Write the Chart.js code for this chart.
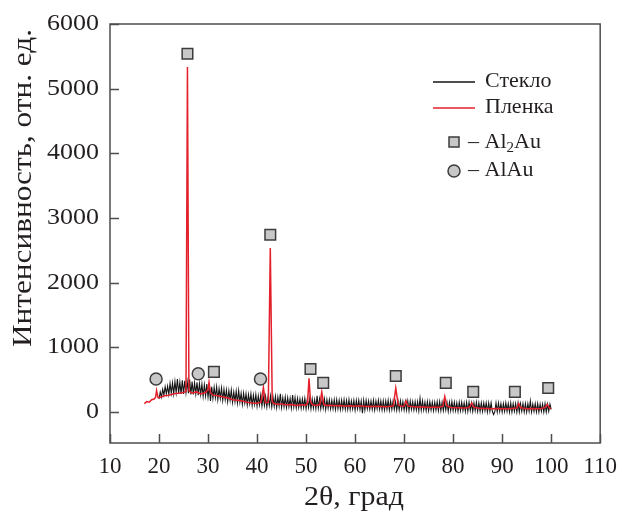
<!DOCTYPE html>
<html>
<head>
<meta charset="utf-8">
<script src="https://cdn.jsdelivr.net/npm/chart.js@4.4.1/dist/chart.umd.min.js"></script>
<style>
html,body{margin:0;padding:0;background:#fff;}
canvas{display:block;}
</style>
</head>
<body>
<canvas id="c" width="627" height="512"></canvas>
<script>
// ---- Data ----
const xTicks = [10, 20, 30, 40, 50, 60, 70, 80, 90, 100, 110];
const yTicks = [0, 1000, 2000, 3000, 4000, 5000, 6000];

// Стекло (glass substrate) — 2θ and intensity
const glassX = [
20,20.25,20.5,20.75,21,21.25,21.5,21.75,22,22.25,22.5,22.75,23,23.25,23.5,23.75,24,24.25,24.5,24.75,
25,25.25,25.5,25.75,26,26.25,26.5,26.75,27,27.25,27.5,27.75,28,28.25,28.5,28.75,29,29.25,29.5,29.75,
30,30.25,30.5,30.75,31,31.25,31.5,31.75,32,32.25,32.5,32.75,33,33.25,33.5,33.75,34,34.25,34.5,34.75,
35,35.25,35.5,35.75,36,36.25,36.5,36.75,37,37.25,37.5,37.75,38,38.25,38.5,38.75,39,39.25,39.5,39.75,
40,40.25,40.5,40.75,41,41.25,41.5,41.75,42,42.25,42.5,42.75,43,43.25,43.5,43.75,44,44.25,44.5,44.75,
45,45.25,45.5,45.75,46,46.25,46.5,46.75,47,47.25,47.5,47.75,48,48.25,48.5,48.75,49,49.25,49.5,49.75,
50,50.25,50.5,50.75,51,51.25,51.5,51.75,52,52.25,52.5,52.75,53,53.25,53.5,53.75,54,54.25,54.5,54.75,
55,55.25,55.5,55.75,56,56.25,56.5,56.75,57,57.25,57.5,57.75,58,58.25,58.5,58.75,59,59.25,59.5,59.75,
60,60.25,60.5,60.75,61,61.25,61.5,61.75,62,62.25,62.5,62.75,63,63.25,63.5,63.75,64,64.25,64.5,64.75,
65,65.25,65.5,65.75,66,66.25,66.5,66.75,67,67.25,67.5,67.75,68,68.25,68.5,68.75,69,69.25,69.5,69.75,
70,70.25,70.5,70.75,71,71.25,71.5,71.75,72,72.25,72.5,72.75,73,73.25,73.5,73.75,74,74.25,74.5,74.75,
75,75.25,75.5,75.75,76,76.25,76.5,76.75,77,77.25,77.5,77.75,78,78.25,78.5,78.75,79,79.25,79.5,79.75,
80,80.25,80.5,80.75,81,81.25,81.5,81.75,82,82.25,82.5,82.75,83,83.25,83.5,83.75,84,84.25,84.5,84.75,
85,85.25,85.5,85.75,86,86.25,86.5,86.75,87,87.25,87.5,87.75,88,88.25,88.5,88.75,89,89.25,89.5,89.75,
90,90.25,90.5,90.75,91,91.25,91.5,91.75,92,92.25,92.5,92.75,93,93.25,93.5,93.75,94,94.25,94.5,94.75,
95,95.25,95.5,95.75,96,96.25,96.5,96.75,97,97.25,97.5,97.75,98,98.25,98.5,98.75,99,99.25,99.5,99.75,100];
const glassY = [
200,310,230,350, 260,390,280,400, 270,440,290,450, 280,470,300,510, 290,460,280,490,
280,480,300,470, 290,500,270,470, 270,450,280,460, 260,440,270,430, 240,420,250,430,
230,400,170,390, 210,380,220,390, 190,360,210,370, 180,350,190,340, 160,330,180,340,
150,310,160,320, 140,330,150,290, 120,290,140,280, 110,270,130,280, 100,260,120,270,
90,250,110,260, 90,250,100,240, 80,240,100,250, 80,230,90,240, 70,230,90,280,
70,220,80,230, 70,220,80,210, 60,260,80,220, 60,210,70,200, 60,200,70,210,
50,200,70,210, 50,200,60,190, 50,250,60,200, 50,190,60,200, 40,190,60,190,
50,180,50,190, 40,190,50,180, 40,180,50,190, 40,180,40,190, 40,170,50,180,
30,180,50,180, 40,170,-20,180, 30,180,50,170, 40,170,40,180, 30,170,50,180,
40,170,30,170, 30,170,40,180, 30,170,40,170, 40,160,30,170, 30,170,40,160,
30,160,30,170, 20,170,40,160, 30,160,30,160, 20,210,30,170, 30,150,20,160,
20,160,30,150, 20,150,30,160, 20,160,20,150, 20,150,30,150, 10,150,20,160,
20,150,20,140, 10,150,20,150, 20,140,10,150, 10,150,20,140, 10,140,20,150,
10,140,10,140, 10,140,20,140, 0,140,10,140, 10,-40,0,140, 0,140,10,130,
0,130,10,140, 10,130,0,140, 0,130,10,130, 0,140,0,130, 10,130,0,130,
0,130,10,170, 0,120,10,130, 0,130,0,120, 10,120,0,130, 0,120,10,120, 40];

// Пленка (film)
const filmX = [17,17.5,18,18.5,19,19.3,19.5,19.8,20.5,21,22,23,24,25,25.5,25.8,26.1,26.5,27,27.5,
28,28.5,29,29.5,30,30.2,30.5,31,32,33,34,35,36,37,38,39,40,40.8,41.3,41.7,
42.3,42.7,43.1,43.5,44,45,46,47,48,49,50,50.3,50.6,50.9,51.3,52,52.8,53.2,53.6,54,
55,56,57,58,59,60,61,62,63,64,65,66,67,67.8,68.3,68.8,69.5,70,70.4,70.8,
72,73,74,75,76,77,77.9,78.3,78.7,79.5,81,82,83,83.4,83.8,84.2,85,86,87,88,
89,90,91,92,93,93.4,93.8,95,96,97,98,98.8,99.2,99.6,100];
const filmY = [130,160,150,190,200,230,330,220,230,250,260,280,290,300,320,5335,330,300,290,310,
300,280,290,300,350,460,300,260,250,230,220,190,180,170,150,140,135,150,380,140,
150,2536,160,130,120,125,110,115,100,110,105,140,520,160,110,100,110,310,120,100,
105,95,100,90,95,90,95,85,90,85,90,80,85,95,370,110,85,90,170,90,
80,75,80,70,75,70,90,240,95,70,65,60,65,80,140,75,60,55,55,50,
55,50,50,55,60,130,65,50,55,50,55,70,120,65,50];

// Phase markers
const al2auX = [25.8, 31.2, 42.7, 50.9, 53.5, 68.3, 78.5, 84.1, 92.6, 99.4];
const al2auY = [5540, 620, 2740, 665, 450, 556, 450, 310, 310, 370];
const alauX = [19.4, 28.0, 40.7];
const alauY = [510, 590, 510];

const seriesNames = ['Стекло', 'Пленка'];
const phaseNames = ['Al2Au', 'AlAu'];
const xTitle = '2θ, град';
const yTitle = 'Интенсивность, отн. ед.';

// ---- Styles ----
const FONT = '"Liberation Serif", "Times New Roman", serif';
const TEXT = '#231f20';
const FRAME = '#4d4d4d';
const RED = '#e3202b';
const BLACK = '#141414';
const MFILL = '#c8c8c8';
const MEDGE = '#3c3c3c';

const pts = (xs, ys) => xs.map((x, i) => ({x: x, y: ys[i]}));

// centred text stretched along its direction to a given width
function stretchedText(ctx, text, targetW) {
  const w = ctx.measureText(text).width;
  ctx.save();
  ctx.scale(targetW / w, 1);
  ctx.textAlign = 'center';
  ctx.fillText(text, 0, 0);
  ctx.restore();
}

const framePlugin = {
  id: 'frame',
  afterDatasetsDraw(chart) {
    const {ctx, chartArea: a, scales: {x, y}} = chart;
    ctx.save();
    ctx.strokeStyle = FRAME;
    ctx.lineWidth = 1.5;
    ctx.strokeRect(a.left, a.top, a.right - a.left, a.bottom - a.top);
    ctx.beginPath();
    yTicks.forEach(v => {
      const py = Math.round(y.getPixelForValue(v)) + 0.5;
      ctx.moveTo(a.left, py); ctx.lineTo(a.left + 9, py);
    });
    xTicks.forEach(v => {
      const px = Math.round(x.getPixelForValue(v)) + 0.5;
      ctx.moveTo(px, a.bottom); ctx.lineTo(px, a.bottom - 9);
    });
    ctx.stroke();

    // y tick labels (slightly wide face, as in the original)
    ctx.fillStyle = TEXT;
    ctx.font = '23px ' + FONT;
    ctx.textBaseline = 'middle';
    ctx.textAlign = 'right';
    yTicks.forEach(v => {
      ctx.save();
      ctx.translate(a.left - 11, y.getPixelForValue(v));
      ctx.scale(1.13, 1);
      ctx.fillText(String(v), 0, 0);
      ctx.restore();
    });

    // axis titles
    ctx.font = '27px ' + FONT;
    ctx.textBaseline = 'alphabetic';
    ctx.save();
    ctx.translate(354, 505);
    stretchedText(ctx, xTitle, 100);
    ctx.restore();
    ctx.save();
    ctx.translate(31, 188);
    ctx.rotate(-Math.PI / 2);
    stretchedText(ctx, yTitle, 318);
    ctx.restore();

    // legend
    ctx.font = '22px ' + FONT;
    ctx.textAlign = 'left';
    ctx.textBaseline = 'middle';
    ctx.lineWidth = 1.3;
    ctx.strokeStyle = BLACK;
    ctx.beginPath(); ctx.moveTo(433, 82); ctx.lineTo(475, 82); ctx.stroke();
    ctx.fillText(seriesNames[0], 485, 81);
    ctx.strokeStyle = RED;
    ctx.beginPath(); ctx.moveTo(433, 108); ctx.lineTo(475, 108); ctx.stroke();
    ctx.fillText(seriesNames[1], 485, 107);

    ctx.fillStyle = MFILL; ctx.strokeStyle = MEDGE; ctx.lineWidth = 1.5;
    ctx.fillRect(449, 137, 10, 10); ctx.strokeRect(449, 137, 10, 10);
    ctx.beginPath(); ctx.arc(454, 171, 6, 0, Math.PI * 2); ctx.fill(); ctx.stroke();

    ctx.fillStyle = TEXT;
    let tx = 468;
    const t1 = '– Al';
    ctx.fillText(t1, tx, 142);
    tx += ctx.measureText(t1).width;
    ctx.font = '15px ' + FONT;
    ctx.fillText('2', tx, 148);
    tx += ctx.measureText('2').width;
    ctx.font = '22px ' + FONT;
    ctx.fillText('Au', tx, 142);
    ctx.fillText('– ' + phaseNames[1], 468, 170);
    ctx.restore();
  }
};

new Chart(document.getElementById('c'), {
  type: 'scatter',
  data: {
    datasets: [
      {label: phaseNames[0], data: pts(al2auX, al2auY), pointStyle: 'rect', pointRadius: 7.5,
       backgroundColor: MFILL, borderColor: MEDGE, borderWidth: 1.5, showLine: false},
      {label: phaseNames[1], data: pts(alauX, alauY), pointStyle: 'circle', pointRadius: 6,
       backgroundColor: MFILL, borderColor: MEDGE, borderWidth: 1.5, showLine: false},
      {label: seriesNames[1], data: pts(filmX, filmY), showLine: true, borderColor: RED,
       borderWidth: 1.5, pointRadius: 0, tension: 0, fill: false},
      {label: seriesNames[0], data: pts(glassX, glassY), showLine: true, borderColor: BLACK,
       borderWidth: 1.1, pointRadius: 0, tension: 0, fill: false}
    ]
  },
  options: {
    responsive: false,
    animation: false,
    devicePixelRatio: 1,
    layout: {padding: {left: 0, top: 24, right: 18, bottom: 0}},
    plugins: {legend: {display: false}, tooltip: {enabled: false}},
    scales: {
      x: {
        type: 'linear', min: 10, max: 110,
        grid: {display: false, drawTicks: false}, border: {display: false},
        afterBuildTicks: s => { s.ticks = xTicks.map(v => ({value: v})); },
        afterFit: s => { s.height = 69; },
        ticks: {font: {family: FONT, size: 23}, color: TEXT, padding: 10, maxRotation: 0,
                autoSkip: false, callback: v => String(v)}
      },
      y: {
        type: 'linear', min: -480, max: 6000,
        grid: {display: false, drawTicks: false}, border: {display: false},
        afterBuildTicks: s => { s.ticks = yTicks.map(v => ({value: v})); },
        afterFit: s => { s.width = 110; },
        ticks: {display: false}
      }
    }
  },
  plugins: [framePlugin]
});
</script>
</body>
</html>
